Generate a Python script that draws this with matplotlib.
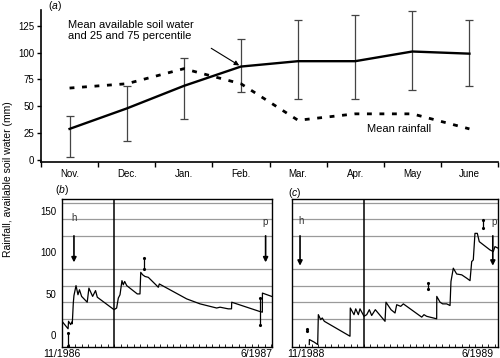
import matplotlib
matplotlib.use('Agg')
import matplotlib.pyplot as plt
import numpy as np

plt.rcParams['font.family'] = ['Liberation Sans', 'DejaVu Sans']
plt.rcParams['lines.scale_dashes'] = False
plt.rcParams['mathtext.fontset'] = 'custom'
plt.rcParams['mathtext.it'] = 'Liberation Sans:italic'
plt.rcParams['mathtext.rm'] = 'Liberation Sans'

# ---------------- panel (a) data ----------------
months = ['Nov.', 'Dec.', 'Jan.', 'Feb.', 'Mar.', 'Apr.', 'May', 'June']
soil_mean = [29, 48, 69, 87, 92, 92, 101, 99]
soil_p25 = [3, 18, 38, 63, 57, 57, 65, 69]
soil_p75 = [41, 69, 95, 113, 130, 135, 139, 130]
rain_mean = [67, 71, 85, 71, 37, 43, 43, 29]

# ---------------- panel (b) data (days since 1 Nov 1986) ----------------
b_day = [0, 6.5, 7.0, 9.3, 10.4, 11.0, 12.1, 12.8, 15.0, 17.1, 18.7, 21.0, 27.0,
         28.8, 32.8, 35.9, 37.8, 55.7, 58.5, 60.3, 62.1, 64.2, 65.6, 67.1, 69.3,
         80.6, 83.5, 84.3, 86.4, 88.9, 92.4, 101.4, 103.1, 104.2, 133.5, 147.8,
         165.6, 169.2, 178.0, 181.5, 181.7, 211.2, 214.5, 214.6, 224.5]
b_val = [17, 8, 17, 13, 16, 14, 39, 48, 60, 49, 55, 47, 40,
         57, 47, 54, 46, 31, 33, 45, 49, 66, 61, 65, 60,
         50, 50, 76, 73, 71, 70, 60, 58, 62, 44, 38,
         33, 34, 32, 32, 40, 29, 28, 51, 47]
b_spike_day = [6.1, 87.8, 211.5]
b_spike_lo = [-13, 80, 12]
b_spike_hi = [3, 93, 45]
b_split = 55.7
b_ticks = [0, 208]
b_ticklabels = ['11/1986', '6/1987']

# ---------------- panel (c) data (days since 1 Nov 1988) ----------------
c_day = [18.5, 18.6, 23.6, 27.5, 28.2, 30.7, 32.4, 34.6, 62.1, 62.4, 66.4, 68.2,
         71.0, 72.8, 77.1, 80.0, 82.8, 85.3, 89.2, 99.6, 100.6, 106.0, 110.3,
         112.1, 116.4, 119.2, 138.9, 141.3, 144.2, 154.9, 155.0, 158.5, 161.3,
         165.6, 169.2, 170.2, 172.7, 176.3, 181.7, 187.0, 190.6, 192.4, 194.1,
         195.9, 198.4, 200.5, 212.0, 215.5, 217.3, 220.9]
c_val = [-11, -5, -8, -11, 25, 19, 21, 17, -1, 33, 25, 32,
         25, 32, 23, 25, 31, 24, 31, 17, 40, 31, 27,
         37, 35, 38, 22, 25, 23, 20, 47, 40, 38,
         38, 36, 65, 81, 74, 73, 69, 66, 89, 91,
         123, 123, 113, 103, 101, 107, 105]
c_spike_day = [15.7, 146.0, 204.8]
c_spike_lo = [5, 56, 129]
c_spike_hi = [8, 63, 139]
c_split = 77.4
c_ticks = [14.5, 199]
c_ticklabels = ['11/1988', '6/1989']

fig = plt.figure(figsize=(5.0, 3.58), dpi=100)

# ---------------- panel (a) ----------------
axa = fig.add_axes([0.082, 0.5466, 0.914, 0.4254])
x = np.arange(len(months))
mean = np.array(soil_mean)
yerr = [mean - np.array(soil_p25), np.array(soil_p75) - mean]
axa.errorbar(x, mean, yerr=yerr, fmt='none', ecolor='#444444', elinewidth=0.9,
             capsize=3, capthick=0.9)
axa.plot(x, soil_mean, color='black', lw=1.7, solid_joinstyle='round')
axa.plot(x, rain_mean, color='black', lw=2.0, dashes=(3.5, 5.5))
axa.set_xlim(-0.5, len(months) - 0.5)
axa.set_ylim(-2.1, 139.6)
axa.set_yticks([0, 25, 50, 75, 100, 125])
axa.set_xticks(x)
axa.set_xticklabels(months)
axa.set_xticks(np.arange(-0.5, len(months), 1.0), minor=True)
axa.tick_params(axis='x', which='major', length=0, pad=5, labelsize=7)
axa.tick_params(axis='x', which='minor', length=3.5, width=1.0, direction='out')
axa.tick_params(axis='y', length=3, width=1.0, direction='out', labelsize=7, pad=2)
for s in ['top', 'right']:
    axa.spines[s].set_visible(False)
for s in ['left', 'bottom']:
    axa.spines[s].set_linewidth(1.2)
axa.text(-0.03, 120.5, 'Mean available soil water\nand 25 and 75 percentile',
         fontsize=8, ha='left', va='center', linespacing=1.2)
axa.annotate('', xy=(2.97, 88), xytext=(2.48, 104),
             arrowprops=dict(arrowstyle='-|>', lw=0.8, color='black',
                             mutation_scale=7, shrinkA=0, shrinkB=0))
axa.text(5.21, 29, 'Mean rainfall', fontsize=8, ha='left', va='center')
fig.text(0.096, 0.983, '($a$)', fontsize=7.5, ha='left', va='center')

# ---------------- panels (b) and (c) ----------------
def series_panel(ax, day, val, sday, slo, shi, split, ticks, labels, xmax, show_y):
    ax.set_xlim(0, xmax)
    ax.set_ylim(-14, 165)
    ax.set_yticks(np.arange(0, 161, 20), minor=True)
    ax.grid(True, axis='y', which='minor', color='#9a9a9a', lw=0.9)
    ax.set_yticks([0, 50, 100, 150])
    ax.set_axisbelow(True)
    ax.plot(day, val, color='black', lw=0.9)
    for d, lo, hi in zip(sday, slo, shi):
        ax.plot([d, d], [lo, hi], color='black', lw=0.9, marker='.', ms=2.5)
    ax.axvline(split, color='black', lw=1.1)
    ax.set_xticks(ticks)
    ax.set_xticklabels(labels)
    ax.set_xticks(np.arange(7, xmax, 7), minor=True)
    ax.tick_params(axis='x', which='major', length=0, pad=1.5, labelsize=7.5)
    ax.tick_params(axis='x', which='minor', length=2, width=0.6, direction='in')
    ax.tick_params(axis='y', which='both', length=0, labelsize=7, pad=4)
    if not show_y:
        ax.set_yticklabels([])
    for s in ax.spines.values():
        s.set_linewidth(1.0)

xb_max = 210 / 0.934
xc_max = 206 / 0.934
axb = fig.add_axes([0.124, 0.0307, 0.42, 0.4148])
series_panel(axb, b_day, b_val, b_spike_day, b_spike_lo, b_spike_hi, b_split,
             b_ticks, b_ticklabels, xb_max, True)
axb.text(12.8, 141, 'h', fontsize=7, ha='center', va='center', color='#333333')
axb.annotate('', xy=(12.8, 88), xytext=(12.8, 120),
             arrowprops=dict(arrowstyle='-|>', lw=1.2, color='black',
                             mutation_scale=7, shrinkA=0, shrinkB=0))
axb.text(217.5, 137, 'p', fontsize=7, ha='center', va='center', color='#333333')
axb.annotate('', xy=(218, 88), xytext=(218, 120),
             arrowprops=dict(arrowstyle='-|>', lw=1.2, color='black',
                             mutation_scale=7, shrinkA=0, shrinkB=0))
fig.text(0.11, 0.469, '($b$)', fontsize=7.5, ha='left', va='center')

axc = fig.add_axes([0.584, 0.0307, 0.412, 0.4148])
series_panel(axc, c_day, c_val, c_spike_day, c_spike_lo, c_spike_hi, c_split,
             c_ticks, c_ticklabels, xc_max, False)
axc.text(9.6, 138, 'h', fontsize=7, ha='center', va='center', color='#333333')
axc.annotate('', xy=(8.6, 84), xytext=(8.6, 120),
             arrowprops=dict(arrowstyle='-|>', lw=1.2, color='black',
                             mutation_scale=7, shrinkA=0, shrinkB=0))
axc.text(216, 137, 'p', fontsize=7, ha='center', va='center', color='#333333')
axc.annotate('', xy=(215, 84), xytext=(215, 120),
             arrowprops=dict(arrowstyle='-|>', lw=1.2, color='black',
                             mutation_scale=7, shrinkA=0, shrinkB=0))
fig.text(0.576, 0.462, '($c$)', fontsize=7.5, ha='left', va='center')

fig.text(0.016, 0.501, 'Rainfall, available soil water (mm)', fontsize=7.5,
         rotation=90, ha='center', va='center')

fig.savefig('out.png', dpi=100)
